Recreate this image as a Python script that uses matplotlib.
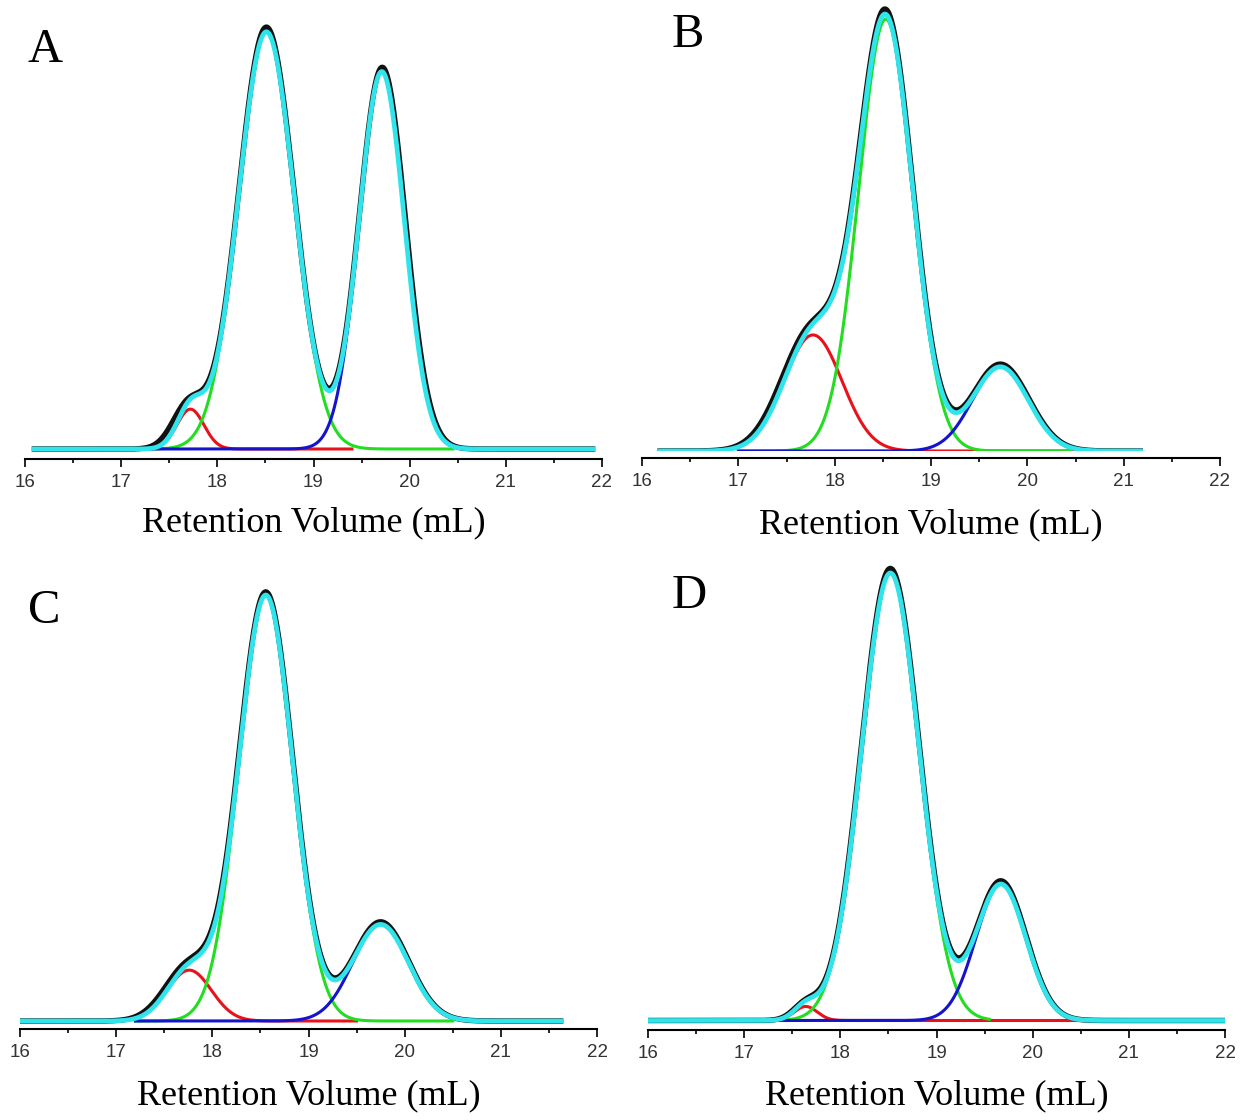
import numpy as np
import matplotlib.pyplot as plt

OUTPUT_PNG = "out.png"

PANELS = ["A", "B", "C", "D"]

# Gaussian deconvolution of the SEC traces: one band per species.
# Centres and widths in mL, heights relative to the tallest point of each trace.
RED_CENTER = [17.72, 17.775, 17.76, 17.64]
RED_HEIGHT = [0.094, 0.262, 0.118, 0.031]
RED_SIGMA = [0.14, 0.30, 0.23, 0.12]

GREEN_CENTER = [18.51, 18.53, 18.556, 18.52]
GREEN_HEIGHT = [0.984, 0.975, 0.988, 0.989]
GREEN_SIGMA = [0.29, 0.28, 0.28, 0.30]

BLUE_CENTER = [19.71, 19.72, 19.75, 19.67]
BLUE_HEIGHT = [0.890, 0.190, 0.224, 0.301]
BLUE_SIGMA = [0.235, 0.29, 0.29, 0.26]

# Measured trace, described by the same three bands (centre, height, sigma)
TRACE_PEAKS = [
    [(17.70, 0.100, 0.165), (18.51, 0.995, 0.29), (19.715, 0.900, 0.24)],
    [(17.76, 0.268, 0.31), (18.53, 0.985, 0.282), (19.72, 0.196, 0.295)],
    [(17.75, 0.125, 0.245), (18.556, 0.995, 0.282), (19.75, 0.230, 0.292)],
    [(17.64, 0.033, 0.13), (18.52, 0.999, 0.302), (19.67, 0.308, 0.262)],
]

# x ranges (mL) over which each curve was exported
TRACE_RANGE = [(16.07, 21.93), (16.16, 21.2), (16.0, 21.65), (16.0, 22.0)]
RED_RANGE = [(17.2, 19.4), (17.0, 20.5), (17.2, 19.5), (17.3, 20.5)]
GREEN_RANGE = [(17.2, 20.45), (17.0, 20.45), (17.2, 20.5), (17.3, 19.55)]
BLUE_RANGE = [(17.2, 20.6), (17.0, 20.55), (17.2, 20.6), (17.3, 20.6)]

XTICKS = [16, 17, 18, 19, 20, 21, 22]

# Page layout in pixels: x of 16 and 22 mL, axis line, baseline, peak top, panel top
LAYOUT = {
    "A": dict(x16=25, x22=602, axis=459, base=449, peak=25, top=0),
    "B": dict(x16=642, x22=1220, axis=458, base=451, peak=8, top=0),
    "C": dict(x16=20, x22=597, axis=1029, base=1021, peak=590, top=560),
    "D": dict(x16=648, x22=1225, axis=1030, base=1020.5, peak=568, top=560),
}
LETTER_POS = {"A": (28, 62), "B": (672, 47), "C": (28, 623), "D": (672, 608)}
LABEL_Y = {"A": 523, "B": 525, "C": 1096, "D": 1096}

W, H = 1241, 1120

COLORS = {
    "trace": "#111111",
    "fit": "#2FE4EA",
    "red": "#E8121A",
    "green": "#22DD22",
    "blue": "#1414CC",
}


def gauss(x, c, h, s):
    return h * np.exp(-0.5 * ((x - c) / s) ** 2)


def main():
    fig = plt.figure(figsize=(W / 100, H / 100), dpi=100)

    for i, name in enumerate(PANELS):
        L = LAYOUT[name]
        # panel B is clipped right at the baseline, with the axis offset below it
        clip_at_base = name == "B"
        bottom_px = L["base"] if clip_at_base else L["axis"]
        ax = fig.add_axes([
            L["x16"] / W, 1 - bottom_px / H,
            (L["x22"] - L["x16"]) / W, (bottom_px - L["top"]) / H,
        ])
        scale = L["base"] - L["peak"]
        ymin = -(bottom_px - L["base"]) / scale
        ax.set_ylim(ymin, ymin + (bottom_px - L["top"]) / scale)
        ax.set_xlim(16, 22)

        bands = [
            ("red", RED_CENTER[i], RED_HEIGHT[i], RED_SIGMA[i], RED_RANGE[i]),
            ("green", GREEN_CENTER[i], GREEN_HEIGHT[i], GREEN_SIGMA[i], GREEN_RANGE[i]),
            ("blue", BLUE_CENTER[i], BLUE_HEIGHT[i], BLUE_SIGMA[i], BLUE_RANGE[i]),
        ]

        xt = np.linspace(*TRACE_RANGE[i], 1200)
        trace = sum(gauss(xt, c, h, s) for c, h, s in TRACE_PEAKS[i])
        ax.plot(xt, trace, color=COLORS["trace"], lw=3.9, solid_capstyle="butt", zorder=1)

        for z, (col, c, h, s, rng) in enumerate(bands):
            xb = np.linspace(*rng, 800)
            ax.plot(xb, gauss(xb, c, h, s), color=COLORS[col], lw=2.2, zorder=2 + z)

        fit = sum(gauss(xt, c, h, s) for _, c, h, s, _ in bands)
        ax.plot(xt, fit, color=COLORS["fit"], lw=3.4, solid_capstyle="butt", zorder=6)

        for side in ("left", "right", "top"):
            ax.spines[side].set_visible(False)
        ax.spines["bottom"].set_linewidth(1.5)
        if clip_at_base:
            ax.spines["bottom"].set_position(("outward", (L["axis"] - L["base"]) * 0.72))
        ax.set_yticks([])
        ax.set_xticks(XTICKS)
        ax.set_xticks(np.arange(16.5, 22, 1.0), minor=True)
        ax.tick_params(axis="x", which="major", direction="out", length=5.5, width=1.2,
                       pad=5, labelsize=13.5, labelcolor="#333333")
        ax.tick_params(axis="x", which="minor", direction="out", length=3.2, width=1.2)
        for lab in ax.get_xticklabels():
            lab.set_fontfamily("Liberation Sans")
        ax.patch.set_alpha(0)

        cx = (L["x16"] + L["x22"]) / 2 / W
        fig.text(cx, 1 - LABEL_Y[name] / H, "Retention Volume (mL)", ha="center", va="center",
                 fontsize=26, family="Liberation Serif")
        lx, ly = LETTER_POS[name]
        fig.text(lx / W, 1 - ly / H, name, ha="left", va="baseline",
                 fontsize=35, family="Liberation Serif")

    fig.savefig(OUTPUT_PNG, dpi=100)


if __name__ == "__main__":
    main()
